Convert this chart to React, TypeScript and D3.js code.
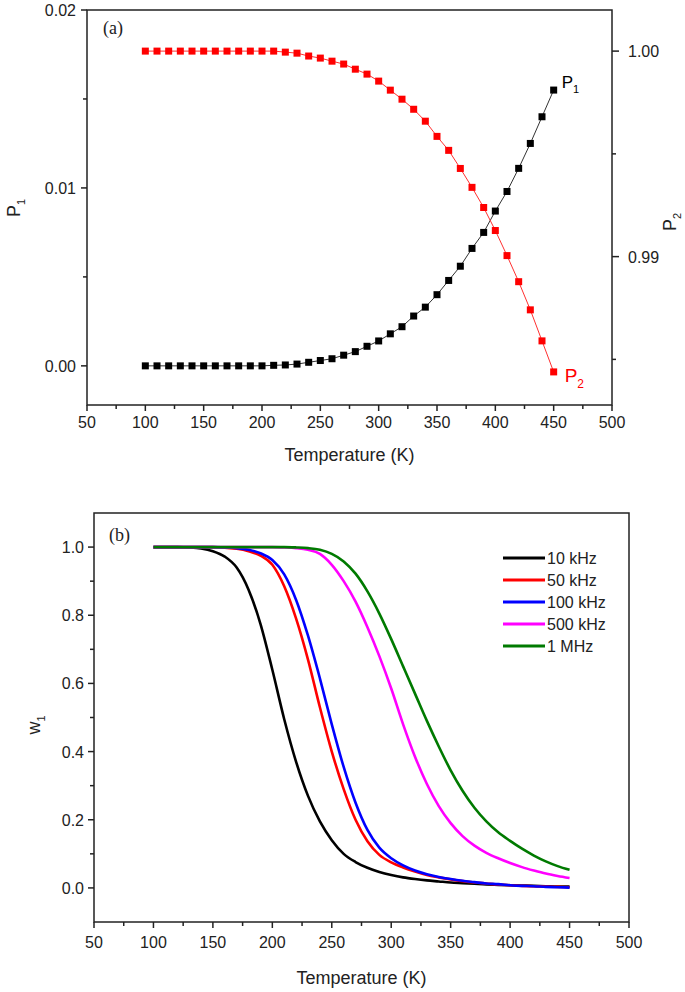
import React from 'react';
import * as d3 from 'd3';

// temperatures (K) shared by all series
const temps = [100, 110, 120, 130, 140, 150, 160, 170, 180, 190, 200, 210, 220, 230, 240, 250, 260, 270,
  280, 290, 300, 310, 320, 330, 340, 350, 360, 370, 380, 390, 400, 410, 420, 430, 440, 450];

// panel (a)
const p1 = [0, 0, 0, 0, 0, 0, 0, 0, 0, 0, 0, 0.00003, 0.00005, 0.0001, 0.0002, 0.0003, 0.0004, 0.0006,
  0.0008, 0.0011, 0.0014, 0.0018, 0.0022, 0.0028, 0.0033, 0.004, 0.0048, 0.0056, 0.0066, 0.0075,
  0.0087, 0.0098, 0.0111, 0.0125, 0.014, 0.0155];
const p2 = [1, 1, 1, 1, 1, 1, 1, 1, 1, 1, 1, 1, 0.99995, 0.9999, 0.99976, 0.99966, 0.99951, 0.99937,
  0.99912, 0.99888, 0.99854, 0.9981, 0.99766, 0.99717, 0.99659, 0.99585, 0.99517, 0.99429, 0.99337,
  0.99239, 0.99127, 0.99005, 0.98878, 0.98741, 0.9859, 0.98439];

// panel (b)
const w10k = [1, 1, 1, 0.999, 0.996, 0.988, 0.972, 0.94, 0.875, 0.775, 0.64, 0.495, 0.37, 0.27, 0.195,
  0.14, 0.1, 0.076, 0.059, 0.047, 0.038, 0.031, 0.026, 0.022, 0.019, 0.016, 0.014, 0.012, 0.01, 0.009,
  0.008, 0.007, 0.006, 0.005, 0.004, 0.004];
const w50k = [1, 1, 1, 1, 1, 1, 0.998, 0.995, 0.988, 0.975, 0.948, 0.885, 0.79, 0.67, 0.53, 0.4, 0.29,
  0.2, 0.137, 0.097, 0.075, 0.06, 0.048, 0.038, 0.031, 0.025, 0.02, 0.016, 0.013, 0.01, 0.008, 0.006,
  0.005, 0.004, 0.003, 0.002];
const w100k = [1, 1, 1, 1, 1, 1, 0.999, 0.997, 0.992, 0.982, 0.962, 0.92, 0.845, 0.74, 0.615, 0.48,
  0.355, 0.25, 0.17, 0.118, 0.087, 0.066, 0.051, 0.04, 0.032, 0.026, 0.021, 0.017, 0.013, 0.011, 0.008,
  0.006, 0.005, 0.003, 0.002, 0.001];
const w500k = [1, 1, 1, 1, 1, 1, 1, 1, 1, 1, 1, 0.999, 0.997, 0.992, 0.98, 0.948, 0.9, 0.84, 0.765,
  0.68, 0.585, 0.48, 0.385, 0.305, 0.24, 0.19, 0.152, 0.124, 0.103, 0.087, 0.073, 0.061, 0.051, 0.042,
  0.035, 0.029];
const w1M = [1, 1, 1, 1, 1, 1, 1, 1, 1, 1, 1, 1, 0.999, 0.997, 0.992, 0.98, 0.958, 0.922, 0.87, 0.805,
  0.73, 0.65, 0.57, 0.49, 0.415, 0.345, 0.285, 0.235, 0.195, 0.163, 0.138, 0.115, 0.095, 0.078, 0.064,
  0.053];

const freqLabels = ['10 kHz', '50 kHz', '100 kHz', '500 kHz', '1 MHz'];
const freqSeries = [w10k, w50k, w100k, w500k, w1M];
const freqColors = ['#000000', '#ff0000', '#0000ff', '#ff00ff', '#007a00'];

const tempTicks = [50, 100, 150, 200, 250, 300, 350, 400, 450, 500];
const tempMinor = [75, 125, 175, 225, 275, 325, 375, 425, 475];
const p1Ticks = [0, 0.01, 0.02];
const p1Minor = [0.005, 0.015];
const p2Ticks = [0.99, 1.0];
const p2Minor = [0.985, 0.995];
const wTicks = [0, 0.2, 0.4, 0.6, 0.8, 1.0];
const wMinor = [0.1, 0.3, 0.5, 0.7, 0.9];

const FONT = "Arial, 'Liberation Sans', sans-serif";
const SERIF = "'Times New Roman', 'Liberation Serif', serif";
const AXIS = '#222';

function PanelA() {
  const L = 87, R = 612, T = 10, B = 405;
  const x = d3.scaleLinear().domain([50, 500]).range([L, R]);
  const y1 = d3.scaleLinear().domain([-0.0022, 0.02]).range([B, T]);
  const y2 = d3.scaleLinear().domain([0.98278, 1.002]).range([B, T]);
  const pts1 = temps.map((t, i) => [x(t), y1(p1[i])] as [number, number]);
  const pts2 = temps.map((t, i) => [x(t), y2(p2[i])] as [number, number]);
  const line = d3.line();
  const s = 7;
  return (
    <g>
      <path d={line(pts1) || ''} fill="none" stroke="#333" strokeWidth={1} />
      <path d={line(pts2) || ''} fill="none" stroke="#ff3030" strokeWidth={1} />
      {pts2.map((p, i) => (
        <rect key={'r' + i} x={p[0] - s / 2} y={p[1] - s / 2} width={s} height={s} fill="#ff0000" />
      ))}
      {pts1.map((p, i) => (
        <rect key={'b' + i} x={p[0] - s / 2} y={p[1] - s / 2} width={s} height={s} fill="#000" />
      ))}
      <rect x={L} y={T} width={R - L} height={B - T} fill="none" stroke={AXIS} strokeWidth={1.5} />
      {tempTicks.map(t => (
        <g key={t}>
          <line x1={x(t)} x2={x(t)} y1={B} y2={B + 6} stroke={AXIS} strokeWidth={1.5} />
          <text x={x(t)} y={B + 23} textAnchor="middle" fontSize={16} fontFamily={FONT} fill="#222">{t}</text>
        </g>
      ))}
      {tempMinor.map(t => (
        <line key={t} x1={x(t)} x2={x(t)} y1={B} y2={B + 4} stroke={AXIS} strokeWidth={1.5} />
      ))}
      {p1Ticks.map(v => (
        <g key={v}>
          <line x1={L - 6} x2={L} y1={y1(v)} y2={y1(v)} stroke={AXIS} strokeWidth={1.5} />
          <text x={L - 11} y={y1(v) + 6} textAnchor="end" fontSize={16} fontFamily={FONT} fill="#222">{v.toFixed(2)}</text>
        </g>
      ))}
      {p1Minor.map(v => (
        <line key={v} x1={L - 4} x2={L} y1={y1(v)} y2={y1(v)} stroke={AXIS} strokeWidth={1.5} />
      ))}
      {p2Ticks.map(v => (
        <g key={v}>
          <line x1={R} x2={R + 7} y1={y2(v)} y2={y2(v)} stroke={AXIS} strokeWidth={1.5} />
          <text x={R + 16} y={y2(v) + 6} fontSize={16} fontFamily={FONT} fill="#222">{v.toFixed(2)}</text>
        </g>
      ))}
      {p2Minor.map(v => (
        <line key={v} x1={R} x2={R + 4} y1={y2(v)} y2={y2(v)} stroke={AXIS} strokeWidth={1.5} />
      ))}
      <text x={(L + R) / 2} y={461} textAnchor="middle" fontSize={18} fontFamily={FONT} fill="#222">Temperature (K)</text>
      <text transform="translate(20,208) rotate(-90)" textAnchor="middle" fontSize={18} fontFamily={FONT} fill="#222">
        P<tspan dy={5} fontSize={11}>1</tspan>
      </text>
      <text transform="translate(676,222) rotate(-90)" textAnchor="middle" fontSize={18} fontFamily={FONT} fill="#222">
        P<tspan dy={5} fontSize={11}>2</tspan>
      </text>
      <text x={103} y={34} fontSize={18} fontFamily={SERIF} fill="#222">(a)</text>
      <text x={x(450) + 8} y={y1(p1[35]) - 2} fontSize={17} fontFamily={FONT} fill="#000">
        P<tspan dy={5} fontSize={11}>1</tspan>
      </text>
      <text x={x(450) + 11} y={y2(p2[35]) + 10} fontSize={19} fontFamily={FONT} fill="#ff0000">
        P<tspan dy={6} fontSize={12}>2</tspan>
      </text>
    </g>
  );
}

function PanelB() {
  const L = 94, R = 629, T = 513, B = 922;
  const x = d3.scaleLinear().domain([50, 500]).range([L, R]);
  const y = d3.scaleLinear().domain([-0.1, 1.1]).range([B, T]);
  const line = d3.line<number>().x((_, i) => x(temps[i])).y(d => y(d)).curve(d3.curveMonotoneX);
  return (
    <g>
      {freqSeries.map((s, k) => (
        <path key={k} d={line(s) || ''} fill="none" stroke={freqColors[k]} strokeWidth={2.6} strokeLinejoin="round" />
      ))}
      <rect x={L} y={T} width={R - L} height={B - T} fill="none" stroke={AXIS} strokeWidth={1.5} />
      {tempTicks.map(t => (
        <g key={t}>
          <line x1={x(t)} x2={x(t)} y1={B} y2={B + 6} stroke={AXIS} strokeWidth={1.5} />
          <text x={x(t)} y={B + 26} textAnchor="middle" fontSize={16} fontFamily={FONT} fill="#222">{t}</text>
        </g>
      ))}
      {tempMinor.map(t => (
        <line key={t} x1={x(t)} x2={x(t)} y1={B} y2={B + 4} stroke={AXIS} strokeWidth={1.5} />
      ))}
      {wTicks.map(v => (
        <g key={v}>
          <line x1={L - 6} x2={L} y1={y(v)} y2={y(v)} stroke={AXIS} strokeWidth={1.5} />
          <text x={L - 10} y={y(v) + 6} textAnchor="end" fontSize={16} fontFamily={FONT} fill="#222">{v.toFixed(1)}</text>
        </g>
      ))}
      {wMinor.map(v => (
        <line key={v} x1={L - 4} x2={L} y1={y(v)} y2={y(v)} stroke={AXIS} strokeWidth={1.5} />
      ))}
      <text x={(L + R) / 2} y={984} textAnchor="middle" fontSize={18} fontFamily={FONT} fill="#222">Temperature (K)</text>
      <text transform="translate(40,725) rotate(-90)" textAnchor="middle" fontSize={18} fontFamily={FONT} fill="#222">
        w<tspan dy={5} fontSize={11}>1</tspan>
      </text>
      <text x={109} y={541} fontSize={18} fontFamily={SERIF} fill="#222">(b)</text>
      {freqLabels.map((lab, k) => (
        <g key={lab} transform={`translate(503,${558 + k * 22})`}>
          <line x1={0} x2={42} y1={0} y2={0} stroke={freqColors[k]} strokeWidth={3} />
          <text x={44} y={6} fontSize={16} fontFamily={FONT} fill="#222">{lab}</text>
        </g>
      ))}
    </g>
  );
}

export default function App() {
  return (
    <svg width={685} height={992} style={{ position: 'absolute', left: 0, top: 0, background: '#fff' }}>
      <PanelA />
      <PanelB />
    </svg>
  );
}
